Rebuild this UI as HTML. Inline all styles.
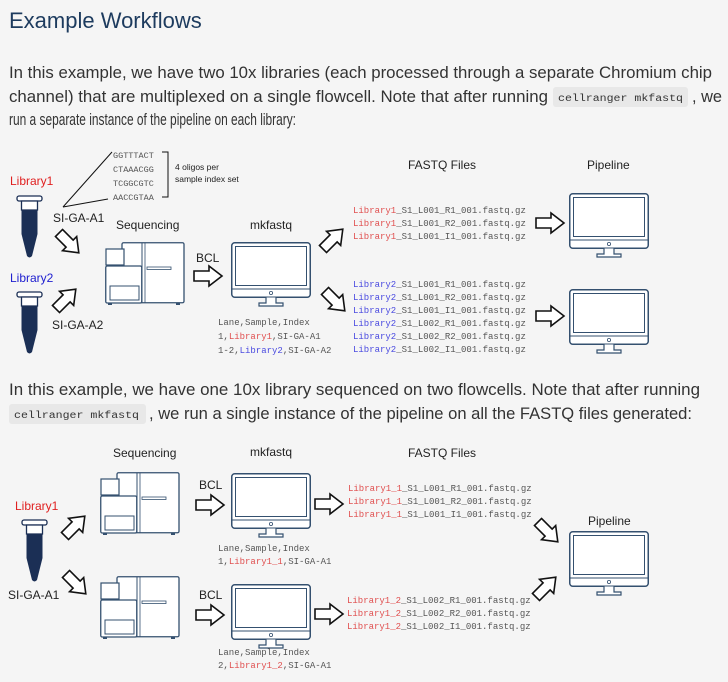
<!DOCTYPE html>
<html><head><meta charset="utf-8"><style>
html,body{margin:0;padding:0;background:#f5f5f5;}
svg{display:block;}
.p{font-family:"Liberation Sans Narrow","Liberation Sans",sans-serif;font-size:17px;fill:#333;}
.l{font-family:"Liberation Sans",sans-serif;font-size:12px;fill:#222;}
.m{font-family:"Liberation Mono",monospace;font-size:9px;fill:#555;}
.r{fill:#e05050;} .b{fill:#4a4ae0;}
</style></head><body>
<svg width="728" height="682" viewBox="0 0 728 682" xmlns="http://www.w3.org/2000/svg">
<defs>
<g id="mon">
 <rect x="0.75" y="0.75" width="78.5" height="54.5" rx="3" fill="#fff" stroke="#34506f" stroke-width="1.5"/>
 <rect x="4.5" y="4.5" width="71" height="39" fill="#fff" stroke="#34506f" stroke-width="1"/>
 <line x1="1" y1="47" x2="79" y2="47" stroke="#34506f" stroke-width="1"/>
 <circle cx="40" cy="51" r="1.6" fill="none" stroke="#34506f" stroke-width="0.8"/>
 <path d="M35 55.5 V61 H28 V64 H52 V61 H45 V55.5" fill="#fff" stroke="#34506f" stroke-width="1.2"/>
</g>
<g id="seq">
 <rect x="17" y="0.75" width="62" height="60" rx="1.5" fill="#fff" stroke="#34506f" stroke-width="1.3"/>
 <line x1="37" y1="1" x2="37" y2="61" stroke="#34506f" stroke-width="1"/>
 <line x1="40" y1="1" x2="40" y2="61" stroke="#34506f" stroke-width="0.8"/>
 <rect x="42" y="25" width="24" height="2.5" fill="#fff" stroke="#34506f" stroke-width="0.8"/>
 <rect x="1" y="7" width="18" height="16" fill="#fff" stroke="#34506f" stroke-width="1.2"/>
 <rect x="0.75" y="24" width="36" height="37" rx="1.5" fill="#fff" stroke="#34506f" stroke-width="1.3"/>
 <rect x="5" y="44" width="29" height="14" fill="#fff" stroke="#34506f" stroke-width="1"/>
 <rect x="3" y="61" width="4" height="2" fill="#34506f"/><rect x="71" y="61" width="4" height="2" fill="#34506f"/>
</g>
<g id="tube">
 <rect x="0" y="0" width="25" height="5" rx="2" fill="#fff" stroke="#1b2f55" stroke-width="1.3"/>
 <path d="M4.5 5 H20.5 V14 H4.5 Z" fill="#fff" stroke="#1b2f55" stroke-width="1.3"/>
 <path d="M4.5 14 H20.5 V38 L15 60 Q12.5 63 10 60 L4.5 38 Z" fill="#1b2f55"/>
</g>
<polygon id="arr" points="0,5 15,5 15,0 28,10 15,20 15,15 0,15" fill="#fff" stroke="#111" stroke-width="1.6" stroke-linejoin="miter"/>
</defs>

<text x="9" y="28" font-family="Liberation Sans Narrow,Liberation Sans,sans-serif" font-size="22" fill="#1d3b5e">Example Workflows</text>

<text class="p" x="9" y="78" textLength="703" lengthAdjust="spacingAndGlyphs">In this example, we have two 10x libraries (each processed through a separate Chromium chip</text>
<text class="p" x="9" y="102" textLength="539" lengthAdjust="spacingAndGlyphs">channel) that are multiplexed on a single flowcell. Note that after running</text>
<rect x="553" y="87" width="135" height="20" rx="3" fill="#e8e8e8"/>
<text x="558" y="101" font-family="Liberation Mono,monospace" font-size="10" fill="#333" textLength="125" lengthAdjust="spacingAndGlyphs">cellranger mkfastq</text>
<text class="p" x="692" y="102" textLength="30" lengthAdjust="spacingAndGlyphs">, we</text>
<text class="p" x="9" y="125" textLength="287" lengthAdjust="spacingAndGlyphs">run a separate instance of the pipeline on each library:</text>

<!-- Diagram 1 -->
<text class="l" x="10" y="185" style="fill:#e02020">Library1</text>
<use href="#tube" x="17" y="196"/>
<text class="l" x="53" y="222">SI-GA-A1</text>
<line x1="63" y1="207" x2="112" y2="152" stroke="#111" stroke-width="1"/>
<line x1="63" y1="207" x2="108" y2="199" stroke="#111" stroke-width="1"/>
<g class="m" style="font-size:8.5px"><text x="113" y="158">GGTTTACT</text><text x="113" y="172">CTAAACGG</text><text x="113" y="186">TCGGCGTC</text><text x="113" y="200">AACCGTAA</text></g>
<path d="M162 152 H168 V197 H162" fill="none" stroke="#111" stroke-width="1"/>
<text x="175" y="170" font-family="Liberation Sans,sans-serif" font-size="8.5" fill="#222">4 oligos per</text>
<text x="175" y="182" font-family="Liberation Sans,sans-serif" font-size="8.5" fill="#222">sample index set</text>
<use href="#arr" transform="translate(59,233) rotate(45) translate(0,-10)"/>
<use href="#arr" transform="translate(56,309) rotate(-45) translate(0,-10)"/>
<text class="l" x="10" y="282" style="fill:#2020d0">Library2</text>
<use href="#tube" x="17" y="292"/>
<text class="l" x="52" y="329">SI-GA-A2</text>
<text class="l" x="116" y="229">Sequencing</text>
<use href="#seq" x="105" y="242"/>
<text class="l" x="196" y="262">BCL</text>
<use href="#arr" x="194" y="266"/>
<text class="l" x="250" y="229">mkfastq</text>
<use href="#mon" x="231" y="242"/>
<g class="m"><text x="218" y="325">Lane,Sample,Index</text><text x="218" y="339">1,<tspan class="r">Library1</tspan>,SI-GA-A1</text><text x="218" y="353">1-2,<tspan class="b">Library2</tspan>,SI-GA-A2</text></g>
<use href="#arr" transform="translate(323,249) rotate(-45) translate(0,-10)"/>
<use href="#arr" transform="translate(325,291) rotate(45) translate(0,-10)"/>
<text class="l" x="408" y="169">FASTQ Files</text>
<g class="m">
<text x="353" y="213"><tspan class="r">Library1</tspan>_S1_L001_R1_001.fastq.gz</text>
<text x="353" y="226"><tspan class="r">Library1</tspan>_S1_L001_R2_001.fastq.gz</text>
<text x="353" y="239"><tspan class="r">Library1</tspan>_S1_L001_I1_001.fastq.gz</text>
<text x="353" y="287"><tspan class="b">Library2</tspan>_S1_L001_R1_001.fastq.gz</text>
<text x="353" y="300"><tspan class="b">Library2</tspan>_S1_L001_R2_001.fastq.gz</text>
<text x="353" y="313"><tspan class="b">Library2</tspan>_S1_L001_I1_001.fastq.gz</text>
<text x="353" y="326"><tspan class="b">Library2</tspan>_S1_L002_R1_001.fastq.gz</text>
<text x="353" y="339"><tspan class="b">Library2</tspan>_S1_L002_R2_001.fastq.gz</text>
<text x="353" y="352"><tspan class="b">Library2</tspan>_S1_L002_I1_001.fastq.gz</text>
</g>
<use href="#arr" x="536" y="213"/>
<use href="#arr" x="536" y="306"/>
<text class="l" x="587" y="169">Pipeline</text>
<use href="#mon" x="569" y="193"/>
<use href="#mon" x="569" y="289"/>

<!-- Paragraph 2 -->
<text class="p" x="9" y="395" textLength="691" lengthAdjust="spacingAndGlyphs">In this example, we have one 10x library sequenced on two flowcells. Note that after running</text>
<rect x="9" y="404" width="137" height="20" rx="3" fill="#e8e8e8"/>
<text x="14" y="418" font-family="Liberation Mono,monospace" font-size="10" fill="#333" textLength="125" lengthAdjust="spacingAndGlyphs">cellranger mkfastq</text>
<text class="p" x="149" y="419" textLength="543" lengthAdjust="spacingAndGlyphs">, we run a single instance of the pipeline on all the FASTQ files generated:</text>

<!-- Diagram 2 -->
<text class="l" x="113" y="457">Sequencing</text>
<use href="#seq" x="100" y="472"/>
<use href="#seq" x="100" y="576"/>
<text class="l" x="15" y="510" style="fill:#e02020">Library1</text>
<use href="#tube" x="22" y="520"/>
<text class="l" x="8" y="599">SI-GA-A1</text>
<use href="#arr" transform="translate(65,536) rotate(-45) translate(0,-10)"/>
<use href="#arr" transform="translate(66,574) rotate(45) translate(0,-10)"/>
<text class="l" x="199" y="489">BCL</text>
<use href="#arr" x="196" y="495"/>
<text class="l" x="199" y="599">BCL</text>
<use href="#arr" x="196" y="605"/>
<text class="l" x="250" y="456">mkfastq</text>
<use href="#mon" x="231" y="473"/>
<use href="#mon" x="231" y="584"/>
<g class="m"><text x="218" y="551">Lane,Sample,Index</text><text x="218" y="564">1,<tspan class="r">Library1_1</tspan>,SI-GA-A1</text>
<text x="218" y="655">Lane,Sample,Index</text><text x="218" y="668">2,<tspan class="r">Library1_2</tspan>,SI-GA-A1</text></g>
<use href="#arr" x="315" y="494"/>
<use href="#arr" x="315" y="604"/>
<text class="l" x="408" y="457">FASTQ Files</text>
<g class="m">
<text x="348" y="491"><tspan class="r">Library1_1</tspan>_S1_L001_R1_001.fastq.gz</text>
<text x="348" y="504"><tspan class="r">Library1_1</tspan>_S1_L001_R2_001.fastq.gz</text>
<text x="348" y="517"><tspan class="r">Library1_1</tspan>_S1_L001_I1_001.fastq.gz</text>
<text x="347" y="603"><tspan class="r">Library1_2</tspan>_S1_L002_R1_001.fastq.gz</text>
<text x="347" y="616"><tspan class="r">Library1_2</tspan>_S1_L002_R2_001.fastq.gz</text>
<text x="347" y="629"><tspan class="r">Library1_2</tspan>_S1_L002_I1_001.fastq.gz</text>
</g>
<use href="#arr" transform="translate(538,522) rotate(45) translate(0,-10)"/>
<use href="#arr" transform="translate(536,597) rotate(-45) translate(0,-10)"/>
<text class="l" x="588" y="525">Pipeline</text>
<use href="#mon" x="569" y="531"/>
</svg>
</body></html>
